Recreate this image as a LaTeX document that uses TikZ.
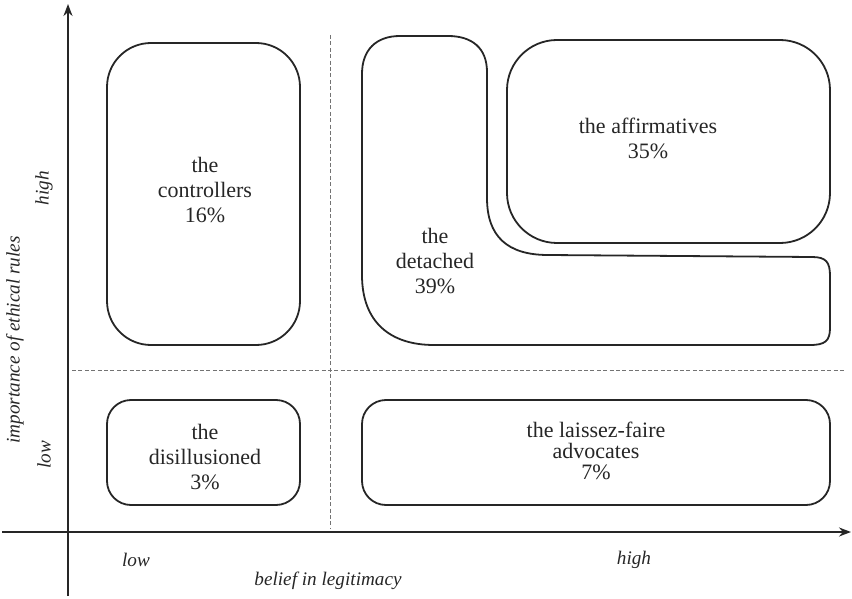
\documentclass[tikz,border=0pt]{standalone}
\usepackage{fontspec}
\setmainfont{Liberation Serif}
\usetikzlibrary{arrows.meta}
\begin{document}
\begin{tikzpicture}[x=0.5pt,y=-0.5pt,
  box/.style={draw=black!85,line width=0.9pt},
  axis/.style={draw=black!85,line width=0.9pt,-{Stealth[length=6pt,width=4.5pt]}},
  divider/.style={draw=black!55,line width=0.5pt,dash pattern=on 2pt off 1.2pt},
  lbl/.style={align=center,inner sep=0pt,text=black!85,font=\fontsize{11}{12.5}\selectfont},
  lbltight/.style={lbl,font=\fontsize{11}{10.5}\selectfont},
  axlbl/.style={inner sep=0pt,text=black!85,font=\fontsize{9.6}{12}\selectfont\itshape}]
\useasboundingbox (0,0) rectangle (852,599);

% quadrant dividers
\draw[divider] (330,35) -- (330,528);
\draw[divider] (72,370) -- (845,370);

% axes
\coordinate (xs) at (2,532);
\coordinate (xe) at (851,532);
\coordinate (ys) at (68,596);
\coordinate (ye) at (68,4);
\draw[axis] (xs) -- (xe);
\draw[axis] (ys) -- (ye);

% segment outlines
\draw[box,rounded corners=22pt] (107,43) rectangle (300,345);
\draw[box,rounded corners=12pt] (107,400) rectangle (300,505);
\draw[box,rounded corners=12pt] (362,400) rectangle (830,505);
\draw[box,rounded corners=25pt] (507,40) rectangle (830,243);
\draw[box] (362,275) -- (362,74)
  .. controls (362,50) and (376,36) .. (400,36)
  -- (448,36)
  .. controls (472,36) and (487,48) .. (487,72)
  -- (487,198)
  .. controls (487,236) and (507,255) .. (548,255)
  -- (812,257)
  .. controls (826,257) and (830,262) .. (830,276)
  -- (830,328)
  .. controls (830,341) and (825,345) .. (810,345)
  -- (434,345)
  .. controls (390,345) and (362,322) .. (362,275) -- cycle;

% segment labels
\node[lbl] (controllers) at (205,190) {the\\controllers\\16\%};
\node[lbl] (affirmatives) at (648,138) {the affirmatives\\35\%};
\node[lbl] (detached) at (435,261) {the\\detached\\39\%};
\node[lbl] (disillusioned) at (205,457) {the\\disillusioned\\3\%};
\node[lbltight] (laissez) at (596,451) {the laissez-faire\\advocates\\7\%};

% axis labels
\node[axlbl] (xlow) at (136,560) {low};
\node[axlbl] (xhigh) at (634,560) {high};
\node[axlbl] (xname) at (328,581) {belief in legitimacy};
\node[axlbl,rotate=90] (yhigh) at (44,188) {high};
\node[axlbl,rotate=90] (ylow) at (44,455) {low};
\node[axlbl,rotate=90] (yname) at (15,340) {importance of ethical rules};
\end{tikzpicture}
\end{document}
